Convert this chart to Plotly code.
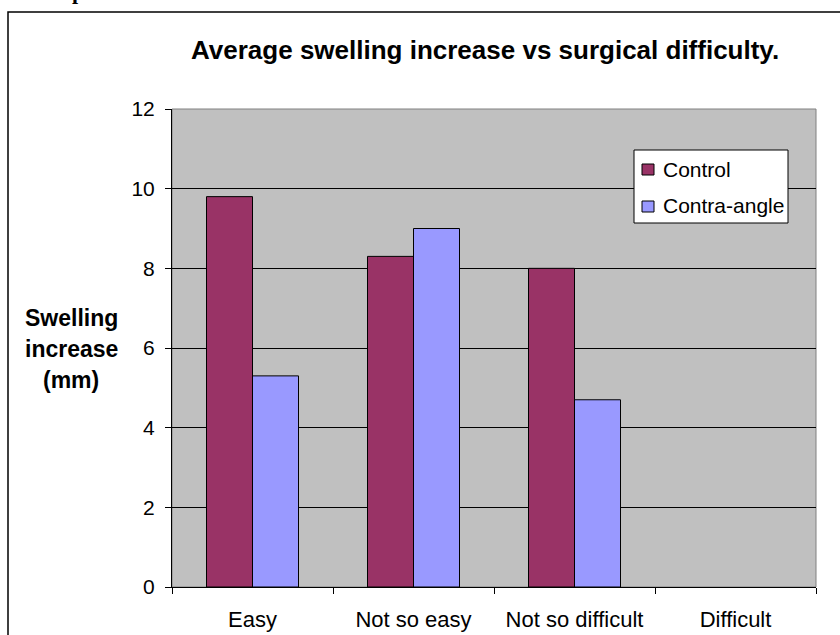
import plotly.graph_objects as go

# Chart data
categories = ["Easy", "Not so easy", "Not so difficult", "Difficult"]
control = [9.8, 8.3, 8.0, None]
contra_angle = [5.3, 9.0, 4.7, None]
y_ticks = [0, 2, 4, 6, 8, 10, 12]
series_names = ["Control", "Contra-angle"]
series_colors = ["#993366", "#9999FF"]

FONT = "Liberation Sans, Arial, sans-serif"

# plot area in pixels (used to convert pixel positions to paper coords)
W, H = 840, 635
L, R, T, B = 172, 24, 109, 48
PW, PH = W - L - R, H - T - B


def px(x):
    return (x - L) / PW


def py(y):
    return (H - B - y) / PH


fig = go.Figure()
for name, vals, color in zip(series_names, [control, contra_angle], series_colors):
    fig.add_trace(go.Bar(
        x=categories, y=vals, name=name,
        marker=dict(color=color, line=dict(color="black", width=1)),
        showlegend=False,
    ))

shapes = [
    # grey frame around the plotting area
    dict(type="rect", xref="paper", yref="paper", x0=0, x1=1, y0=0, y1=1,
         line=dict(color="#808080", width=1), layer="below"),
    # outer chart border
    dict(type="rect", xref="paper", yref="paper",
         x0=px(8), x1=px(850), y0=py(650), y1=py(12),
         line=dict(color="black", width=1.5)),
    # legend box
    dict(type="rect", xref="paper", yref="paper",
         x0=px(634), x1=px(788), y0=py(223), y1=py(150),
         fillcolor="white", line=dict(color="black", width=1)),
]

annotations = [
    dict(text="<b>Average swelling increase vs surgical difficulty.</b>",
         x=px(485), y=py(50), xanchor="center", yanchor="middle",
         font=dict(family=FONT, size=26, color="black")),
    dict(text="<b>Swelling</b>", x=px(71), y=py(318),
         xanchor="center", yanchor="middle",
         font=dict(family=FONT, size=23, color="black")),
    dict(text="<b>increase</b>", x=px(71), y=py(349),
         xanchor="center", yanchor="middle",
         font=dict(family=FONT, size=23, color="black")),
    dict(text="<b>(mm)</b>", x=px(71), y=py(380),
         xanchor="center", yanchor="middle",
         font=dict(family=FONT, size=23, color="black")),
    # page heading above the chart frame
    dict(text="<b>Graph</b>", x=px(32), y=py(6),
         xanchor="left", yanchor="bottom",
         font=dict(family="Liberation Serif, Times New Roman, serif", size=22, color="black")),
]

# legend entries: colour key plus label
legend_rows = [169, 206]
for name, color, yc in zip(series_names, series_colors, legend_rows):
    shapes.append(dict(type="rect", xref="paper", yref="paper",
                       x0=px(642), x1=px(654), y0=py(yc + 6), y1=py(yc - 5),
                       fillcolor=color, line=dict(color="black", width=1)))
    annotations.append(dict(text=name, x=px(661), y=py(yc),
                            xanchor="left", yanchor="middle",
                            font=dict(family=FONT, size=21, color="black")))

fig.update_layout(
    width=W, height=H,
    margin=dict(l=L, r=R, t=T, b=B, pad=0, autoexpand=False),
    paper_bgcolor="white",
    plot_bgcolor="#C0C0C0",
    barmode="group",
    bargap=1.5 / 3.5,
    bargroupgap=0,
    font=dict(family=FONT, color="black", size=20),
    showlegend=False,
    xaxis=dict(
        type="category", automargin=False,
        showline=True, linecolor="black", linewidth=1,
        ticks="outside", tickson="boundaries", ticklen=6,
        tickcolor="black", tickwidth=1,
        tickfont=dict(family=FONT, size=22, color="black"),
        ticklabelstandoff=13,
        showgrid=False,
    ),
    yaxis=dict(
        range=[0, 12], tickvals=y_ticks, automargin=False,
        showline=True, linecolor="black", linewidth=1,
        ticks="outside", ticklen=6, tickcolor="black", tickwidth=1,
        tickfont=dict(family=FONT, size=21, color="black"),
        ticklabelstandoff=6,
        showgrid=True, gridcolor="black", gridwidth=1,
        zeroline=False,
    ),
    shapes=shapes,
)

for a in annotations:
    fig.add_annotation(xref="paper", yref="paper", showarrow=False, **a)

fig.write_html("out.html")
